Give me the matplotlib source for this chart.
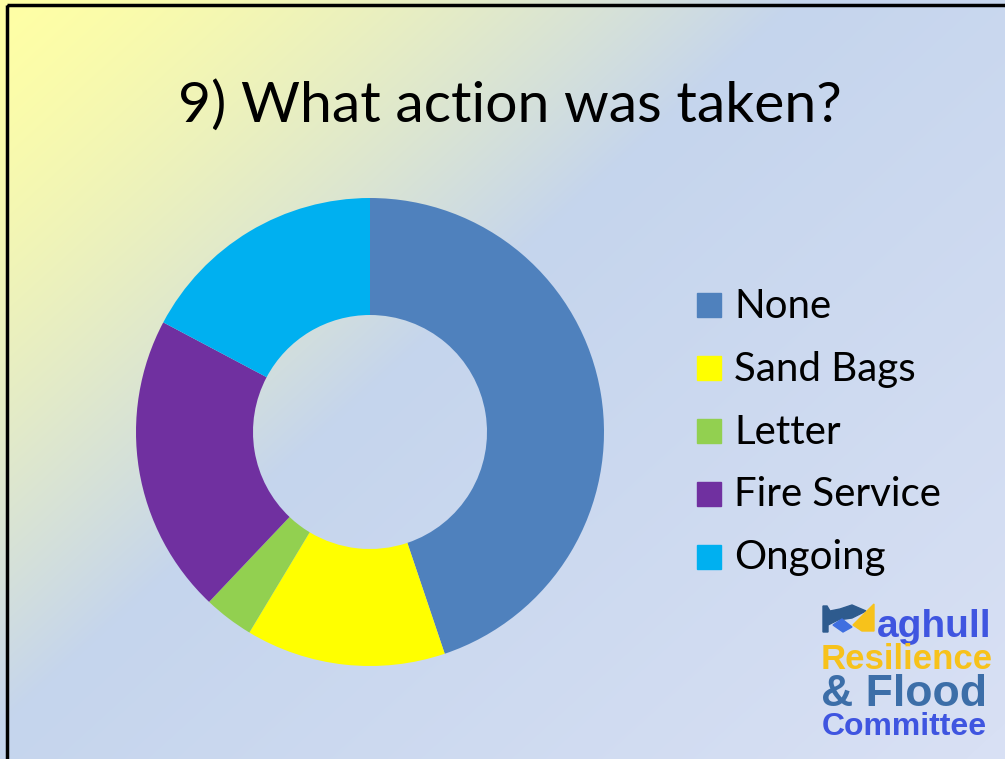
import numpy as np
import matplotlib
matplotlib.use('Agg')
import matplotlib.pyplot as plt
from matplotlib.patches import Rectangle, Polygon

labels = ['None', 'Sand Bags', 'Letter', 'Fire Service', 'Ongoing']
counts = [13, 4, 1, 6, 5]
colors = ['#4F81BD', '#FFFF00', '#92D050', '#7030A0', '#00B0F0']

title = '9) What action was taken?'
logo_lines = ['aghull', 'Resilience', '& Flood', 'Committee']

W, H = 1005, 759
fig = plt.figure(figsize=(W / 100, H / 100), dpi=100)

# background gradient: pale yellow top-left -> light blue -> lighter blue bottom-right
bg = fig.add_axes([0, 0, 1, 1])
yy, xx = np.mgrid[0:H, 0:W]
s = (xx + 1.1 * yy).astype(float)
t1 = np.clip(s / 800, 0, 1) ** 1.4
t1 = t1[..., None]
t2 = np.clip((s - 800) / 1000, 0, 1)[..., None]
c0 = np.array([255, 255, 165]) / 255
c1 = np.array([197, 213, 237]) / 255
c2 = np.array([216, 224, 244]) / 255
img = c0 * (1 - t1) + c1 * t1
img = img * (1 - t2) + c2 * t2
bg.imshow(img, extent=[0, W, H, 0], aspect='auto')
bg.set_xlim(0, W)
bg.set_ylim(H, 0)
bg.axis('off')
bg.add_patch(Rectangle((7, 5), W + 20, H + 20, fill=False, edgecolor='black', linewidth=2.5))

# donut
cx, cy, r = 370, 432, 234
ax = fig.add_axes([(cx - r) / W, (H - cy - r) / H, 2 * r / W, 2 * r / H])
ax.pie(counts, colors=colors, startangle=90, counterclock=False,
       radius=1, wedgeprops=dict(width=0.5, edgecolor='none'))
ax.set_xlim(-1, 1)
ax.set_ylim(-1, 1)
ax.axis('off')

bg.text(510, 122, title, fontsize=41, family='Lato',
        ha='center', va='baseline', color='black')

# legend
for i, (lab, col) in enumerate(zip(labels, colors)):
    y = 305 + i * 63
    bg.add_patch(Rectangle((697, y - 12), 24, 24, color=col))
    bg.text(734, y + 1, lab, fontsize=29, family='Lato', va='center', ha='left')

# logo
bg.add_patch(Polygon([(823, 606), (827, 606), (830, 611), (840, 609), (852, 605), (866, 611),
                      (852, 618), (838, 620), (828, 625), (828, 632), (823, 632)],
                     closed=True, color='#2E5B8E'))
bg.add_patch(Polygon([(833, 625), (842, 619), (852, 627), (843, 632)],
                     closed=True, color='#3F6FE0'))
bg.add_patch(Polygon([(853, 625), (874, 604), (874, 631), (862, 631)], closed=True, color='#F7C21B'))
logo_cols = ['#3F55E0', '#F7C21B', '#3C6EA8', '#3F55E0']
logo_y = [637, 669, 706, 735]
logo_x = [877, 821, 821, 822]
logo_fs = [28, 25, 32, 23]
for txt, col, x, y, fs in zip(logo_lines, logo_cols, logo_x, logo_y, logo_fs):
    bg.text(x, y, txt, fontsize=fs, family='Liberation Sans', weight='bold',
            color=col, ha='left', va='baseline')

fig.savefig('out.png', dpi=100)
